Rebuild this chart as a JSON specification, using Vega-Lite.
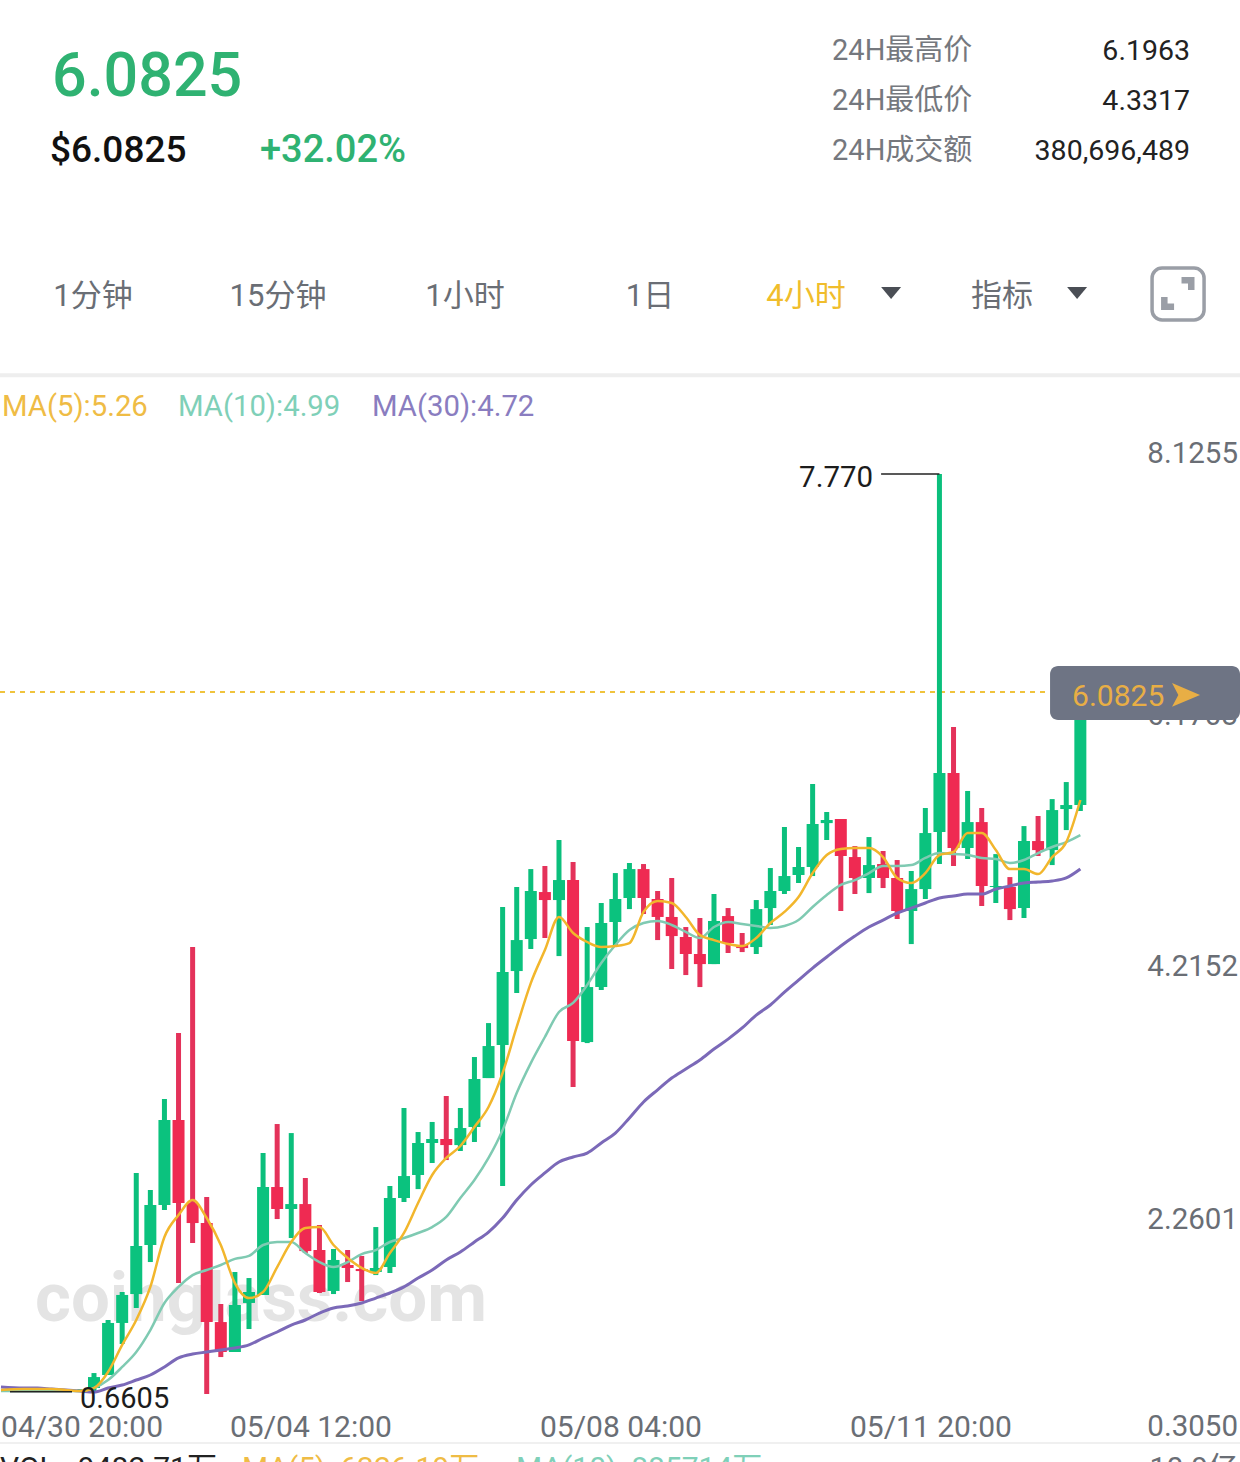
{
"$schema":"https://vega.github.io/schema/vega-lite/v6.json",
"width":1240,"height":1462,"padding":0,
"autosize":{"type":"none"},
"background":"#ffffff",
"config":{"view":{"stroke":null},"text":{"font":"Roboto, Noto Sans CJK SC"}},
"datasets":{
"candles":[
{"i":-6,"o":0.675,"c":0.682,"h":0.69,"l":0.667},{"i":-5,"o":0.682,"c":0.69,"h":0.698,"l":0.675},{"i":-4,"o":0.682,"c":0.675,"h":0.69,"l":0.667},{"i":-3,"o":0.675,"c":0.682,"h":0.69,"l":0.667},{"i":-2,"o":0.675,"c":0.668,"h":0.682,"l":0.66},{"i":-1,"o":0.668,"c":0.675,"h":0.682,"l":0.66},
{"i":0,"o":0.69,"c":0.775,"h":0.806,"l":0.66},{"i":1,"o":0.791,"c":1.194,"h":1.217,"l":0.791},{"i":2,"o":1.194,"c":1.411,"h":1.434,"l":1.031},{"i":3,"o":1.418,"c":1.79,"h":2.356,"l":1.31},{"i":4,"o":1.798,"c":2.108,"h":2.224,"l":1.666},{"i":5,"o":2.108,"c":2.766,"h":2.929,"l":2.069},{"i":6,"o":2.766,"c":2.123,"h":3.44,"l":1.503},{"i":7,"o":2.123,"c":1.968,"h":4.106,"l":1.813},{"i":8,"o":1.968,"c":1.201,"h":2.17,"l":0.644},{"i":9,"o":1.201,"c":0.969,"h":1.341,"l":0.93},
{"i":10,"o":0.969,"c":1.333,"h":1.589,"l":0.969},{"i":11,"o":1.349,"c":1.434,"h":1.542,"l":1.147},{"i":12,"o":1.411,"c":2.247,"h":2.51,"l":1.411},{"i":13,"o":2.247,"c":2.077,"h":2.735,"l":1.999},{"i":14,"o":2.077,"c":2.115,"h":2.665,"l":1.852},{"i":15,"o":2.115,"c":1.751,"h":2.317,"l":1.736},{"i":16,"o":1.759,"c":1.434,"h":1.953,"l":1.426},{"i":17,"o":1.442,"c":1.682,"h":1.767,"l":1.418},{"i":18,"o":1.643,"c":1.62,"h":1.759,"l":1.511},{"i":19,"o":1.612,"c":1.596,"h":1.713,"l":1.364},
{"i":20,"o":1.589,"c":1.62,"h":1.937,"l":1.565},{"i":21,"o":1.627,"c":2.162,"h":2.255,"l":1.581},{"i":22,"o":2.162,"c":2.332,"h":2.859,"l":2.131},{"i":23,"o":2.34,"c":2.588,"h":2.673,"l":2.231},{"i":24,"o":2.588,"c":2.619,"h":2.751,"l":2.433},{"i":25,"o":2.619,"c":2.572,"h":2.952,"l":2.456},{"i":26,"o":2.572,"c":2.704,"h":2.859,"l":2.526},{"i":27,"o":2.712,"c":3.084,"h":3.254,"l":2.596},{"i":28,"o":3.091,"c":3.339,"h":3.517,"l":3.091},{"i":29,"o":3.347,"c":3.912,"h":4.416,"l":2.255},
{"i":30,"o":3.92,"c":4.16,"h":4.571,"l":3.75},{"i":31,"o":4.168,"c":4.54,"h":4.71,"l":4.091},{"i":32,"o":4.532,"c":4.47,"h":4.734,"l":4.176},{"i":33,"o":4.47,"c":4.625,"h":4.935,"l":4.036},{"i":34,"o":4.625,"c":3.378,"h":4.765,"l":3.022},{"i":35,"o":3.37,"c":3.796,"h":4.261,"l":3.362},{"i":36,"o":3.796,"c":4.292,"h":4.447,"l":3.773},{"i":37,"o":4.3,"c":4.478,"h":4.679,"l":4.122},{"i":38,"o":4.486,"c":4.71,"h":4.757,"l":4.4},{"i":39,"o":4.71,"c":4.486,"h":4.749,"l":4.362},
{"i":40,"o":4.478,"c":4.339,"h":4.54,"l":4.16},{"i":41,"o":4.339,"c":4.191,"h":4.641,"l":3.936},{"i":42,"o":4.184,"c":4.052,"h":4.261,"l":3.889},{"i":43,"o":4.052,"c":3.974,"h":4.331,"l":3.796},{"i":44,"o":3.974,"c":4.308,"h":4.517,"l":3.974},{"i":45,"o":4.346,"c":4.137,"h":4.408,"l":4.06},{"i":46,"o":4.122,"c":4.098,"h":4.215,"l":4.067},{"i":47,"o":4.106,"c":4.4,"h":4.47,"l":4.052},{"i":48,"o":4.408,"c":4.54,"h":4.718,"l":4.277},{"i":49,"o":4.54,"c":4.656,"h":5.036,"l":4.517},
{"i":50,"o":4.664,"c":4.726,"h":4.881,"l":4.602},{"i":51,"o":4.726,"c":5.059,"h":5.369,"l":4.656},{"i":52,"o":5.066,"c":5.09,"h":5.152,"l":4.935},{"i":53,"o":5.098,"c":4.811,"h":5.098,"l":4.385},{"i":54,"o":4.803,"c":4.641,"h":4.888,"l":4.517},{"i":55,"o":4.641,"c":4.741,"h":4.958,"l":4.524},{"i":56,"o":4.749,"c":4.641,"h":4.85,"l":4.563},{"i":57,"o":4.641,"c":4.385,"h":4.78,"l":4.323},{"i":58,"o":4.385,"c":4.555,"h":4.695,"l":4.129},{"i":59,"o":4.555,"c":4.989,"h":5.183,"l":4.478},
{"i":60,"o":4.997,"c":5.454,"h":7.77,"l":4.749},{"i":61,"o":5.454,"c":4.873,"h":5.81,"l":4.734},{"i":62,"o":4.873,"c":5.074,"h":5.315,"l":4.788},{"i":63,"o":5.074,"c":4.579,"h":5.183,"l":4.424},{"i":64,"o":4.571,"c":4.579,"h":4.826,"l":4.447},{"i":65,"o":4.571,"c":4.4,"h":4.648,"l":4.315},{"i":66,"o":4.408,"c":4.927,"h":5.043,"l":4.331},{"i":67,"o":4.927,"c":4.857,"h":5.121,"l":4.811},{"i":68,"o":4.857,"c":5.167,"h":5.252,"l":4.741},{"i":69,"o":5.175,"c":5.206,"h":5.384,"l":5.012},{"i":70,"o":5.206,"c":6.0825,"h":6.0825,"l":5.16}
],
"ma":[
{"i":-6.6,"ma5":0.675,"ma10":0.667,"ma30":0.698},{"i":-5,"ma5":0.682,"ma10":0.667,"ma30":0.69},{"i":-4,"ma5":0.682,"ma10":0.667,"ma30":0.69},{"i":-3,"ma5":0.682,"ma10":0.667,"ma30":0.682},{"i":-2,"ma5":0.675,"ma10":0.667,"ma30":0.675},{"i":-1,"ma5":0.667,"ma10":0.667,"ma30":0.667},
{"i":0,"ma5":0.69,"ma10":0.69,"ma30":0.659},{"i":1,"ma5":0.814,"ma10":0.752,"ma30":0.69},{"i":2,"ma5":1.024,"ma10":0.853,"ma30":0.713},{"i":3,"ma5":1.217,"ma10":0.969,"ma30":0.752},{"i":4,"ma5":1.473,"ma10":1.139,"ma30":0.791},{"i":5,"ma5":1.86,"ma10":1.349,"ma30":0.853},{"i":6,"ma5":2.03,"ma10":1.473,"ma30":0.923},{"i":7,"ma5":2.146,"ma10":1.565,"ma30":0.953},{"i":8,"ma5":2.007,"ma10":1.604,"ma30":0.969},{"i":9,"ma5":1.798,"ma10":1.643,"ma30":0.985},
{"i":10,"ma5":1.503,"ma10":1.69,"ma30":1.0},{"i":11,"ma5":1.387,"ma10":1.713,"ma30":1.024},{"i":12,"ma5":1.434,"ma10":1.798,"ma30":1.077},{"i":13,"ma5":1.627,"ma10":1.821,"ma30":1.124},{"i":14,"ma5":1.821,"ma10":1.821,"ma30":1.178},{"i":15,"ma5":1.93,"ma10":1.736,"ma30":1.217},{"i":16,"ma5":1.937,"ma10":1.666,"ma30":1.271},{"i":17,"ma5":1.798,"ma10":1.627,"ma30":1.31},{"i":18,"ma5":1.697,"ma10":1.666,"ma30":1.325},{"i":19,"ma5":1.62,"ma10":1.728,"ma30":1.349},
{"i":20,"ma5":1.581,"ma10":1.759,"ma30":1.387},{"i":21,"ma5":1.736,"ma10":1.821,"ma30":1.426},{"i":22,"ma5":1.891,"ma10":1.852,"ma30":1.473},{"i":23,"ma5":2.123,"ma10":1.891,"ma30":1.542},{"i":24,"ma5":2.34,"ma10":1.937,"ma30":1.604},{"i":25,"ma5":2.472,"ma10":2.015,"ma30":1.682},{"i":26,"ma5":2.565,"ma10":2.162,"ma30":1.744},{"i":27,"ma5":2.712,"ma10":2.301,"ma30":1.821},{"i":28,"ma5":2.867,"ma10":2.472,"ma30":1.898},{"i":29,"ma5":3.13,"ma10":2.689,"ma30":2.007},
{"i":30,"ma5":3.487,"ma10":2.975,"ma30":2.146},{"i":31,"ma5":3.827,"ma10":3.207,"ma30":2.263},{"i":32,"ma5":4.083,"ma10":3.409,"ma30":2.356},{"i":33,"ma5":4.339,"ma10":3.603,"ma30":2.441},{"i":34,"ma5":4.215,"ma10":3.673,"ma30":2.48},{"i":35,"ma5":4.145,"ma10":3.812,"ma30":2.51},{"i":36,"ma5":4.106,"ma10":3.982,"ma30":2.588},{"i":37,"ma5":4.114,"ma10":4.122,"ma30":2.665},{"i":38,"ma5":4.137,"ma10":4.238,"ma30":2.782},{"i":39,"ma5":4.378,"ma10":4.292,"ma30":2.906},
{"i":40,"ma5":4.463,"ma10":4.308,"ma30":3.0},{"i":41,"ma5":4.447,"ma10":4.277,"ma30":3.091},{"i":42,"ma5":4.339,"ma10":4.223,"ma30":3.161},{"i":43,"ma5":4.199,"ma10":4.176,"ma30":3.231},{"i":44,"ma5":4.16,"ma10":4.261,"ma30":3.316},{"i":45,"ma5":4.13,"ma10":4.3,"ma30":3.393},{"i":46,"ma5":4.114,"ma10":4.285,"ma30":3.479},{"i":47,"ma5":4.176,"ma10":4.269,"ma30":3.579},{"i":48,"ma5":4.292,"ma10":4.254,"ma30":3.657},{"i":49,"ma5":4.378,"ma10":4.269,"ma30":3.757},
{"i":50,"ma5":4.493,"ma10":4.315,"ma30":3.85},{"i":51,"ma5":4.679,"ma10":4.416,"ma30":3.943},{"i":52,"ma5":4.819,"ma10":4.509,"ma30":4.029},{"i":53,"ma5":4.866,"ma10":4.587,"ma30":4.114},{"i":54,"ma5":4.873,"ma10":4.625,"ma30":4.191},{"i":55,"ma5":4.873,"ma10":4.679,"ma30":4.261},{"i":56,"ma5":4.803,"ma10":4.734,"ma30":4.315},{"i":57,"ma5":4.641,"ma10":4.734,"ma30":4.369},{"i":58,"ma5":4.602,"ma10":4.741,"ma30":4.408},{"i":59,"ma5":4.679,"ma10":4.796,"ma30":4.447},
{"i":60,"ma5":4.819,"ma10":4.834,"ma30":4.486},{"i":61,"ma5":4.842,"ma10":4.826,"ma30":4.501},{"i":62,"ma5":4.989,"ma10":4.819,"ma30":4.517},{"i":63,"ma5":4.989,"ma10":4.796,"ma30":4.517},{"i":64,"ma5":4.857,"ma10":4.788,"ma30":4.555},{"i":65,"ma5":4.71,"ma10":4.757,"ma30":4.579},{"i":66,"ma5":4.71,"ma10":4.78,"ma30":4.602},{"i":67,"ma5":4.671,"ma10":4.834,"ma30":4.61},{"i":68,"ma5":4.803,"ma10":4.881,"ma30":4.618},{"i":69,"ma5":4.919,"ma10":4.919,"ma30":4.641},{"i":70,"ma5":5.245,"ma10":4.973,"ma30":4.71}
]
},
"encoding":{
"x":{"field":"i","type":"quantitative","axis":null,"scale":{"domain":[-6.67,81.33],"nice":false,"zero":false,"padding":0}},
"y":{"field":"p","type":"quantitative","axis":null,"scale":{"domain":[0.117,11.442],"nice":false,"zero":false,"padding":0}}
},
"layer":[
{"data":{"values":[{"text":"coinglass.com","i":-4.19,"p":1.372}]},"mark":{"type":"text","align":"left","baseline":"middle","fontSize":69,"fontWeight":700,"color":"#e4e4e4"},"encoding":{"text":{"field":"text"}}},
{"data":{"values":[{"i":-6.67,"p":8.536},{"i":81.33,"p":8.536}]},"mark":{"type":"line","color":"#eeeeee","strokeWidth":4},"encoding":{}},
{"data":{"values":[{"i":-6.67,"p":0.264},{"i":81.33,"p":0.264}]},"mark":{"type":"line","color":"#f0f0f0","strokeWidth":2},"encoding":{}},
{"data":{"values":[{"i":-6.67,"p":6.0825},{"i":67.85,"p":6.0825}]},"mark":{"type":"line","color":"#f0c33c","strokeWidth":2,"strokeDash":[5,5]},"encoding":{}},
{"data":{"name":"candles"},"mark":{"type":"rule","strokeWidth":5},"encoding":{"y":{"field":"h","type":"quantitative"},"y2":{"field":"l"},"color":{"condition":{"test":"datum.c>=datum.o","value":"#0bbf7c"},"value":"#e4325a"}}},
{"data":{"name":"candles"},"mark":{"type":"bar","size":12},"encoding":{"y":{"field":"o","type":"quantitative"},"y2":{"field":"c"},"color":{"condition":{"test":"datum.c>=datum.o","value":"#0bc27e"},"value":"#ef2a52"}}},
{"data":{"name":"ma"},"mark":{"type":"line","color":"#7b69b8","strokeWidth":3,"interpolate":"monotone"},"encoding":{"y":{"field":"ma30","type":"quantitative"}}},
{"data":{"name":"ma"},"mark":{"type":"line","color":"#7fcab2","strokeWidth":2.5,"interpolate":"monotone"},"encoding":{"y":{"field":"ma10","type":"quantitative"}}},
{"data":{"name":"ma"},"mark":{"type":"line","color":"#f2b62c","strokeWidth":2.5,"interpolate":"monotone"},"encoding":{"y":{"field":"ma5","type":"quantitative"}}},
{"data":{"values":[{"i":55.86,"i2":60,"p":7.77},{"i":-5.96,"i2":-1.56,"p":0.6605}]},"mark":{"type":"rule","color":"#222222","strokeWidth":1.5},"encoding":{"x2":{"field":"i2"}}},
{"data":{"values":[{"text":"7.770","i":50.04,"p":7.754}]},"mark":{"type":"text","align":"left","baseline":"middle","dy":2,"fontSize":29.5,"color":"#1c1c1c"},"encoding":{"text":{"field":"text"}}},
{"data":{"values":[{"text":"0.6605","i":-0.99,"p":0.62}]},"mark":{"type":"text","align":"left","baseline":"middle","dy":2,"fontSize":29,"color":"#1c1c1c"},"encoding":{"text":{"field":"text"}}},
{"data":{"values":[{"text":"8.1255","i":81.19,"p":7.94},{"text":"6.1703","i":81.19,"p":5.911},{"text":"4.2152","i":81.19,"p":3.967},{"text":"2.2601","i":81.19,"p":2.007},{"text":"0.3050","i":81.19,"p":0.404}]},"mark":{"type":"text","align":"right","baseline":"middle","dy":2,"fontSize":29.5,"color":"#6a6e75"},"encoding":{"text":{"field":"text"}}},
{"data":{"values":[{"text":"04/30 20:00","i":-0.85,"p":0.396},{"text":"05/04 12:00","i":15.4,"p":0.396},{"text":"05/08 04:00","i":37.4,"p":0.396},{"text":"05/11 20:00","i":59.4,"p":0.396}]},"mark":{"type":"text","align":"center","baseline":"middle","dy":2,"fontSize":30,"color":"#6a6e75"},"encoding":{"text":{"field":"text"}}},
{"data":{"values":[{"i":67.85,"i2":81.33,"p":6.283,"p2":5.864}]},"mark":{"type":"rect","color":"#6e7484","cornerRadius":8},"encoding":{"x2":{"field":"i2"},"y2":{"field":"p2"}}},
{"data":{"values":[{"text":"6.0825","i":69.41,"p":6.059}]},"mark":{"type":"text","align":"left","baseline":"middle","dy":2,"fontSize":30,"color":"#e8ae45"},"encoding":{"text":{"field":"text"}}},
{"data":{"values":[{"i":77.5,"p":6.059}]},"mark":{"type":"point","filled":true,"size":784,"opacity":1,"color":"#e8ae45","shape":"M-1,-0.85L1,0L-1,0.85L-0.55,0Z"},"encoding":{}},
{"data":{"values":[{"text":"6.0825","i":-2.98,"p":10.861}]},"mark":{"type":"text","align":"left","baseline":"middle","dy":3,"fontSize":61,"fontWeight":500,"color":"#2fb272"},"encoding":{"text":{"field":"text"}}},
{"data":{"values":[{"text":"$6.0825","i":-3.12,"p":10.288}]},"mark":{"type":"text","align":"left","baseline":"middle","dy":2,"fontSize":37,"fontWeight":500,"color":"#111111"},"encoding":{"text":{"field":"text"}}},
{"data":{"values":[{"text":"+32.02%","i":11.78,"p":10.288}]},"mark":{"type":"text","align":"left","baseline":"middle","dy":2,"fontSize":38,"fontWeight":500,"color":"#2fb272"},"encoding":{"text":{"field":"text"}}},
{"data":{"values":[{"text":"24H最高价","i":52.38,"p":11.062},{"text":"24H最低价","i":52.38,"p":10.675},{"text":"24H成交额","i":52.38,"p":10.288}]},"mark":{"type":"text","align":"left","baseline":"middle","dy":2,"fontSize":29,"color":"#75787e"},"encoding":{"text":{"field":"text"}}},
{"data":{"values":[{"text":"6.1963","i":77.78,"p":11.062},{"text":"4.3317","i":77.78,"p":10.675},{"text":"380,696,489","i":77.78,"p":10.288}]},"mark":{"type":"text","align":"right","baseline":"middle","dy":2,"fontSize":28.5,"color":"#222222"},"encoding":{"text":{"field":"text"}}},
{"data":{"values":[{"text":"1分钟","i":-0.07,"p":9.157},{"text":"15分钟","i":13.06,"p":9.157},{"text":"1小时","i":26.33,"p":9.157},{"text":"1日","i":39.46,"p":9.157},{"text":"指标","i":64.44,"p":9.157}]},"mark":{"type":"text","align":"center","baseline":"middle","dy":2,"fontSize":31,"color":"#6a6e75"},"encoding":{"text":{"field":"text"}}},
{"data":{"values":[{"text":"4小时","i":50.53,"p":9.157}]},"mark":{"type":"text","align":"center","baseline":"middle","dy":2,"fontSize":31,"color":"#f0bd2c"},"encoding":{"text":{"field":"text"}}},
{"data":{"values":[{"i":56.57,"p":9.173},{"i":69.77,"p":9.173}]},"mark":{"type":"point","filled":true,"size":400,"opacity":1,"color":"#4a4e55","shape":"M-1,-0.6L1,-0.6L0,0.6Z"},"encoding":{}},
{"data":{"values":[{"i":75.09,"i2":78.78,"p":9.366,"p2":8.963}]},"mark":{"type":"rect","fillOpacity":0,"stroke":"#9a9ea6","strokeWidth":3.5,"cornerRadius":10},"encoding":{"x2":{"field":"i2"},"y2":{"field":"p2"}}},
{"data":{"values":[{"i":77.64,"p":9.246}]},"mark":{"type":"point","filled":true,"size":169,"opacity":1,"color":"#9a9ea6","shape":"M-1,-1L1,-1L1,1L0,1L0,0L-1,0Z"},"encoding":{}},
{"data":{"values":[{"i":76.19,"p":9.091}]},"mark":{"type":"point","filled":true,"size":169,"opacity":1,"color":"#9a9ea6","shape":"M-1,-1L0,-1L0,0L1,0L1,1L-1,1Z"},"encoding":{}},
{"data":{"values":[{"text":"MA(5):5.26","i":-6.53,"p":8.304}]},"mark":{"type":"text","align":"left","baseline":"middle","dy":2,"fontSize":29.3,"color":"#efbc45"},"encoding":{"text":{"field":"text"}}},
{"data":{"values":[{"text":"MA(10):4.99","i":5.96,"p":8.304}]},"mark":{"type":"text","align":"left","baseline":"middle","dy":2,"fontSize":29.3,"color":"#7fd0b8"},"encoding":{"text":{"field":"text"}}},
{"data":{"values":[{"text":"MA(30):4.72","i":19.73,"p":8.304}]},"mark":{"type":"text","align":"left","baseline":"middle","dy":2,"fontSize":29.3,"color":"#8a7dc0"},"encoding":{"text":{"field":"text"}}},
{"data":{"values":[{"text":"VOL : 9482.71万","i":-6.67,"p":0.065}]},"mark":{"type":"text","align":"left","baseline":"middle","fontSize":30,"color":"#222222"},"encoding":{"text":{"field":"text"}}},
{"data":{"values":[{"text":"MA(5): 6326.19万","i":10.5,"p":0.065}]},"mark":{"type":"text","align":"left","baseline":"middle","fontSize":30,"color":"#efbc45"},"encoding":{"text":{"field":"text"}}},
{"data":{"values":[{"text":"MA(10): 885714万","i":29.95,"p":0.065}]},"mark":{"type":"text","align":"left","baseline":"middle","fontSize":30,"color":"#7fd0b8"},"encoding":{"text":{"field":"text"}}},
{"data":{"values":[{"text":"10.9亿","i":81.19,"p":0.065}]},"mark":{"type":"text","align":"right","baseline":"middle","fontSize":30,"color":"#6a6e75"},"encoding":{"text":{"field":"text"}}}
]
}
